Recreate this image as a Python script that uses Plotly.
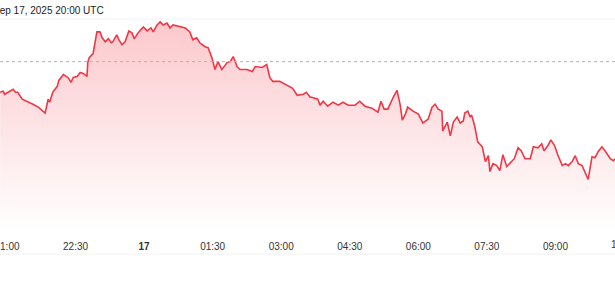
import pandas as pd
import plotly.graph_objects as go

BASE = pd.Timestamp("2025-09-16 21:00")

# minutes after 21:00 on Sep 16
minutes = [-9, -5, -3, 8, 11, 14, 20, 26, 34, 41, 50, 54, 56, 60, 66, 68, 74, 80, 84, 87,
           92, 96, 100, 105, 106, 108, 113, 118, 122, 125, 129, 133, 137, 139, 144, 147, 151, 155,
           160, 164, 167, 172, 179, 184, 189, 192, 197, 201, 205, 210, 214, 218, 227, 234, 240,
           244, 249, 253, 260, 264, 269, 273, 277, 282, 289, 293, 297, 302, 306, 315, 322, 326,
           335, 341, 345, 349, 358, 368, 375, 381, 389, 393, 398,
           400, 408, 411, 415, 421, 428, 435, 441, 448, 457, 463, 470, 479, 487, 491, 495, 500,
           504, 507, 512, 516, 519, 523, 526, 533, 540, 546, 553, 558, 562, 566, 571, 572, 578,
           582, 586, 591, 595, 599, 601, 605, 608, 610, 614, 618, 624, 628, 632, 634, 638, 643,
           647, 651, 656, 660, 666, 671, 675, 680, 687, 691, 697, 702, 705, 710, 714, 719, 723,
           729, 733, 737, 742, 746, 750, 755, 761, 763, 768, 772, 776, 781, 786, 792, 796, 799]

prices = [116260, 116270, 116240, 116290, 116260, 116260, 116190, 116170, 116140, 116110,
          116050, 116190, 116160, 116260, 116320, 116380, 116440, 116410, 116360, 116410,
          116420, 116460, 116450, 116420, 116560, 116610, 116650, 116870, 116870, 116810,
          116770, 116800, 116760, 116770, 116840, 116790, 116740, 116770, 116880, 116860,
          116800, 116860, 116920, 116880, 116910, 116870, 116940, 116970, 116940, 116960,
          116910, 116940, 116920, 116910, 116870, 116790, 116810, 116760, 116720, 116710,
          116610, 116490, 116570, 116490, 116560, 116570, 116620, 116520, 116490, 116490,
          116470, 116520, 116510, 116540, 116410, 116370, 116370, 116330, 116300, 116230,
          116240, 116260, 116210,
          116210, 116190, 116130, 116170, 116120, 116160, 116130, 116160, 116130, 116130,
          116170, 116120, 116100, 116060, 116170, 116090, 116090, 116170, 116210, 116280,
          116140, 115980, 116040, 116110, 116070, 116040, 115950, 115990, 116110, 116140,
          116090, 116070, 115870, 115960, 115820, 115960, 116010, 115950, 115970, 116050,
          116070, 116010, 116030, 115920, 115760, 115710, 115560, 115620, 115460, 115540,
          115520, 115470, 115630, 115510, 115540, 115590, 115700, 115670, 115590, 115590,
          115710, 115700, 115740, 115670, 115720, 115780, 115720, 115630, 115520, 115540,
          115520, 115560, 115620, 115540, 115520, 115420, 115380, 115610, 115600, 115660,
          115710, 115660, 115590, 115570, 115590]

reference_price = 116570

tick_times = ["2025-09-16 21:00", "2025-09-16 22:30", "2025-09-17 00:00", "2025-09-17 01:30",
              "2025-09-17 03:00", "2025-09-17 04:30", "2025-09-17 06:00", "2025-09-17 07:30",
              "2025-09-17 09:00"]
tick_labels = ["21:00", "22:30", "<b>17</b>", "01:30", "03:00", "04:30", "06:00", "07:30",
               "09:00"]
edge_tick_label = "10:30"   # next tick, just past the right edge

header_text = "Sep 17, 2025 20:00 UTC"

times = [BASE + pd.Timedelta(minutes=m) for m in minutes]

Y_TOP, Y_BOTTOM = 117000, 114870
LINE = "#f23645"
FONT = "Helvetica, Arial, 'Liberation Sans', sans-serif"

fig = go.Figure()
fig.add_trace(go.Scatter(
    x=times, y=prices, mode="lines",
    line=dict(color=LINE, width=1.6),
    fill="tozeroy",
    fillgradient=dict(type="vertical", start=Y_BOTTOM, stop=116970,
                      colorscale=[[0, "rgba(242,54,69,0.0)"], [0.15, "rgba(242,54,69,0.04)"],
                                  [1, "rgba(242,54,69,0.27)"]]),
    hoverinfo="skip", showlegend=False,
))

fig.add_hline(y=reference_price, line=dict(color="#b5b5b5", width=1, dash="dot"))

fig.add_shape(type="line", xref="paper", yref="paper", x0=0, x1=1, y0=1, y1=1,
              line=dict(color="#f2f2f2", width=1))
fig.add_shape(type="line", xref="paper", yref="paper", x0=0, x1=1, y0=-0.114, y1=-0.114,
              line=dict(color="#f2f2f2", width=1))

fig.add_annotation(text=header_text, xref="paper", yref="paper", x=0, y=1.0,
                   xanchor="left", yanchor="middle", yshift=9, xshift=-9, showarrow=False,
                   font=dict(family=FONT, size=10, color="#222"))

fig.add_annotation(text=edge_tick_label, xref="paper", yref="paper", x=1.0146, y=-0.071,
                   xanchor="center", yanchor="middle", showarrow=False,
                   font=dict(family=FONT, size=10, color="#333"))

fig.update_layout(
    width=615, height=300,
    margin=dict(l=0, r=0, t=19, b=70, autoexpand=False),
    paper_bgcolor="white", plot_bgcolor="white",
    xaxis=dict(type="date",
               range=["2025-09-16 20:50:48", "2025-09-17 10:18:12"],
               tickvals=tick_times, ticktext=tick_labels,
               showgrid=False, zeroline=False, showline=False, ticks="",
               ticklabelstandoff=9, ticklabeloverflow="allow", automargin=False,
               tickfont=dict(family=FONT, size=10, color="#333")),
    yaxis=dict(range=[Y_BOTTOM, Y_TOP], visible=False, showgrid=False, zeroline=False,
               automargin=False),
)

fig.write_html("out.html")
